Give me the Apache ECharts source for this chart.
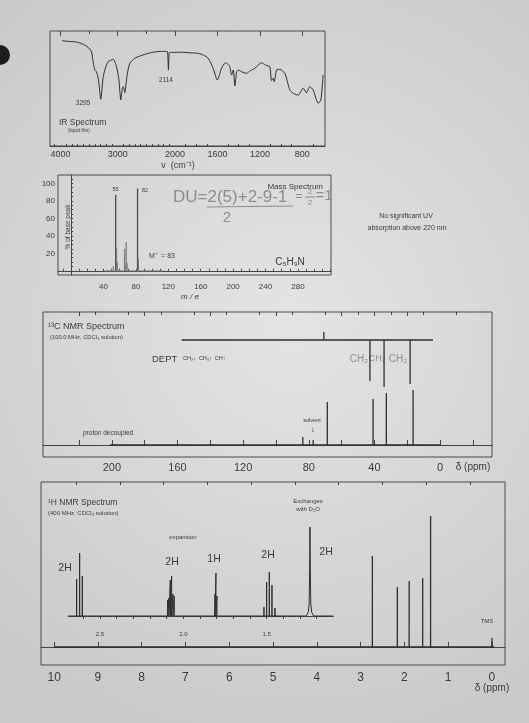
<!DOCTYPE html>
<html><head><meta charset="utf-8">
<script src="https://cdn.jsdelivr.net/npm/echarts@6/dist/echarts.min.js"></script>
<style>html,body{margin:0;padding:0;background:#d8d8d6;}#c{width:529px;height:723px;}</style>
</head><body><div id="c"></div>
<script>
// ---------- IR spectrum ----------
const irWavenumber = [3970,3870,3750,3660,3575,3500,3457,3425,3400,3370,3335,3295,3253,3210,3166,3079,3021,2980,2946,2920,2904,2876,2850,2829,2789,2702,2600,2468,2350,2236,2160,2131,2114,2100,2050,1939,1850,1781,1730,1687,1640,1602,1580,1562,1524,1500,1484,1467,1451,1436,1420,1404,1373,1326,1290,1248,1185,1147,1107,1091,1075,1065,1043,1012,965,918,880,839,792,761,730,698,651,626,604];
const irTransmittance = [91.6,91.0,90.7,89.5,87.8,85.0,82.0,72.0,66.1,64.6,57.4,40.6,60.3,68.5,73.3,75.4,69.0,58.0,40.0,50.0,51.6,46.3,56.0,63.5,71.9,76.3,78.5,80.6,81.8,82.3,82.2,82.0,66.1,81.1,81.4,81.5,81.0,80.6,79.0,76.3,67.6,57.4,62.0,67.6,72.4,71.0,69.0,61.7,66.1,52.2,64.6,66.1,64.6,63.2,65.5,67.6,72.4,70.4,69.0,56.8,58.9,55.9,66.1,66.7,63.2,48.7,45.5,44.3,50.2,46.3,51.6,48.7,37.1,40.0,61.7];
const irTickLabels = [4000,3000,2000,1600,1200,800];
const irMinorTicks = [4100,3900,3800,3700,3600,3500,3400,3300,3200,3100,2900,2800,2700,2600,2500,2400,2300,2200,2100,1900,1800,1700,1500,1400,1300,1100,1000,900,700];
const irTopTicks = [3500,3000,2500,2000,1600,1200,800];

// ---------- Mass spectrum ----------
const msMass = [52,55,56,57,66,67,68,69,82,83];
const msIntensity = [5,87,26,10,25,6,33,9,94,14];
const msXLabels = [40,80,120,160,200,240,280];
const msXTicks = [-10,0,10,20,30,40,50,60,70,80,90,100,110,120,130,140,150,160,170,180,190,200,210,220,230,240,250,260,270,280,290,300,310,320];
const msYLabels = [20,40,60,80,100];
const msYTicks = [0,5,10,15,20,25,30,35,40,45,50,55,60,65,70,75,80,85,90,95,100,105];

// ---------- 13C NMR ----------
const c13Shift = [83.6,77.3,68.7,40.8,32.7,16.4];
const c13Height = [8,5,43,46,52,55];
const deptShift = [70.8,42.7,34.1,18.2];
const deptHeight = [8,-41,-47,-44];
const c13Labels = [200,160,120,80,40,0];
const c13MajorTicks = [220,200,180,160,140,120,100,80,60,40,20,0,-20];
const c13MinorTicks = [210,190,170,150,130,110,90,70,50,30,10,-10];
const c13TopTicks = [220,180,140,100,60,40,20];

// ---------- 1H NMR ----------
const h1Shift = [2.73,2.16,1.89,1.58,1.40,0.00];
const h1Height = [91,60,66,69,131,9];
const h1Labels = [10,9,8,7,6,5,4,3,2,1,0];
const h1HalfTicks = [9.5,8.5,7.5,6.5,5.5,4.5,3.5,2.5,1.5,0.5];
const expShift = [2.640,2.622,2.606,2.094,2.086,2.078,2.070,2.062,2.054,1.810,1.804,1.798,1.516,1.500,1.484,1.468,1.450];
const expHeight = [37,63,40,16,18,36,40,22,20,22,43,20,9,34,44,31,8];
const nh2Shift = [1.262,1.250,1.245,1.242,1.240,1.238,1.235,1.230,1.218];
const nh2Height = [0,4,12,45,89,45,12,4,0];
const expLabels = [2.5,2.0,1.5];
const expTicks = [2.6,2.5,2.4,2.3,2.2,2.1,2.0,1.9,1.8,1.7,1.6,1.5,1.4,1.3,1.2];

// ---------- helpers ----------
const IR_STRETCH = 1.852;
const irU = w => w >= 2000 ? 4000 - w : 2000 + (2000 - w) * IR_STRETCH;
const irW = u => u <= 2000 ? 4000 - u : 2000 - (u - 2000) / IR_STRETCH;

function sticks(from, to, shifts, heights, extra) {
  const pts = shifts.map((s, i) => [s, heights[i]]).sort((a, b) => b[0] - a[0]);
  const d = [[from, 0]];
  pts.forEach(([s, h]) => { d.push([s, 0], [s, h], [s, 0]); });
  if (extra) extra.forEach(p => d.push(p));
  d.push([to, 0]);
  return d;
}

const FONT = 'Liberation Sans';
const INK = '#3a3a3a';
const LINE = '#2e2e2e';
const base = {type:'value', splitLine:{show:false}, axisLine:{show:false}, axisTick:{show:false}, axisLabel:{show:false}};
const lbl = (size, extra) => Object.assign({show:true, fontSize:size, color:INK, fontFamily:FONT}, extra || {});
const tick = (vals, len, inside) => ({show:true, inside: inside !== false, length:len, customValues:vals, lineStyle:{color:'#444', width:1}});
const axLine = {show:true, lineStyle:{color:'#444', width:1}};

function txt(t, x, y, size, o) {
  o = o || {};
  return {type:'text', x:x, y:y, rotation:o.rotation || 0, silent:true,
    style:{text:t, font:(o.italic ? 'italic ' : '') + (o.weight || 'normal') + ' ' + size + 'px "' + (o.family || FONT) + '"',
      fill:o.color || INK, align:o.align || 'center', verticalAlign:'middle'}};
}
const PENCIL = '#8d8d8d';

const grids = [
  {left:50, top:31, width:275, height:115, show:true, borderColor:'#4a4a4a', borderWidth:1},   // IR
  {left:58, top:175, width:273, height:100, show:true, borderColor:'#4a4a4a', borderWidth:1},  // MS
  {left:43, top:312, width:449, height:145, show:true, borderColor:'#4a4a4a', borderWidth:1},  // 13C
  {left:43, top:300, width:449, height:90, show:false},                                          // DEPT
  {left:41, top:482, width:464, height:183, show:true, borderColor:'#4a4a4a', borderWidth:1},  // 1H
  {left:68.3, top:516, width:265, height:110, show:false}                                        // expansion
];

const irMin = -181.5, irMax = 4617.5;
const msMin = -16.2, msMax = 320.8;
const cMin = -31.7, cMax = 242;
const hMin = -0.3, hMax = 10.3;
const eMin = 1.10, eMax = 2.69;

const xAxis = [
  Object.assign({}, base, {gridIndex:0, min:irMin, max:irMax, axisLine:axLine,
    axisTick:tick(irMinorTicks.map(irU), 2),
    axisLabel:lbl(9, {customValues:irTickLabels.map(irU), margin:4, formatter:v => String(Math.round(irW(v)))})}),
  Object.assign({}, base, {gridIndex:0, min:irMin, max:irMax, axisTick:tick(irTickLabels.map(irU), 5)}),
  Object.assign({}, base, {gridIndex:0, min:irMin, max:irMax, position:'top', axisTick:tick(irTopTicks.map(irU), 3)}),
  Object.assign({}, base, {gridIndex:1, min:msMin, max:msMax, axisLine:axLine,
    axisTick:tick(msXTicks, 2), axisLabel:lbl(8, {customValues:msXLabels, margin:8})}),
  Object.assign({}, base, {gridIndex:2, min:cMin, max:cMax, inverse:true, axisLine:axLine,
    axisTick:tick(c13MajorTicks, 5), axisLabel:lbl(11, {customValues:c13Labels, margin:5})}),
  Object.assign({}, base, {gridIndex:2, min:cMin, max:cMax, inverse:true, axisTick:tick(c13MinorTicks, 3)}),
  Object.assign({}, base, {gridIndex:2, min:cMin, max:cMax, inverse:true, position:'top', axisTick:tick(c13TopTicks, 4)}),
  Object.assign({}, base, {gridIndex:3, min:cMin, max:cMax, inverse:true}),
  Object.assign({}, base, {gridIndex:4, min:hMin, max:hMax, inverse:true, axisLine:axLine,
    axisTick:tick(h1Labels, 5), axisLabel:lbl(12, {customValues:h1Labels, margin:7})}),
  Object.assign({}, base, {gridIndex:4, min:hMin, max:hMax, inverse:true, axisTick:tick(h1HalfTicks, 3)}),
  Object.assign({}, base, {gridIndex:5, min:eMin, max:eMax, inverse:true, axisLine:axLine,
    axisTick:tick(expTicks, 3, false), axisLabel:lbl(6, {customValues:expLabels, margin:5, formatter:v => v.toFixed(1)})})
];

const yAxis = [
  Object.assign({}, base, {gridIndex:0, min:0, max:100}),
  Object.assign({}, base, {gridIndex:1, min:-4.8, max:109.5, axisLine:axLine,
    axisTick:tick(msYTicks, 2), axisLabel:lbl(8, {customValues:msYLabels, margin:3})}),
  Object.assign({}, base, {gridIndex:2, min:-12, max:133}),
  Object.assign({}, base, {gridIndex:3, min:-50, max:40}),
  Object.assign({}, base, {gridIndex:4, min:-18, max:165}),
  Object.assign({}, base, {gridIndex:5, min:-10, max:100})
];

const lineS = (xi, yi, data, w, extra) => Object.assign({type:'line', xAxisIndex:xi, yAxisIndex:yi, data:data,
  symbol:'none', showSymbol:false, silent:true, lineStyle:{color:LINE, width:w}}, extra || {});

const series = [
  lineS(0, 0, irWavenumber.map((w, i) => [irU(w), irTransmittance[i]]), 1, {smooth:0.2}),
  lineS(3, 1, [[41, 0], [114, 0]], 1, {lineStyle:{color:'#8a8a8a', width:1}}),
  {type:'bar', xAxisIndex:3, yAxisIndex:1, barWidth:1.3, silent:true,
    data:msMass.map((m, i) => ({value:[m, msIntensity[i]], itemStyle:{color: msIntensity[i] > 50 ? '#4a4a4a' : '#7d7d7d'}}))},
  lineS(4, 2, sticks(201.2, 0, c13Shift, c13Height), 1.3),
  lineS(7, 3, sticks(157.5, 4.3, deptShift, deptHeight), 1.3),
  lineS(8, 4, sticks(10.0, -0.05, h1Shift, h1Height), 1.3),
  lineS(10, 5, sticks(2.69, 1.10, expShift, expHeight, nh2Shift.map((s, i) => [s, nh2Height[i]])), 1)
];

const graphic = [
  {type:'circle', shape:{cx:0, cy:55, r:10}, style:{fill:'#1c1c1c'}, silent:true},
  // IR
  txt('3295', 83, 103, 6.5),
  txt('2114', 166, 80, 6.5),
  txt('IR Spectrum', 59, 123, 8.5, {align:'left'}),
  txt('(liquid film)', 68, 131, 4.5, {align:'left'}),
  txt('ν  (cm⁻¹)', 178, 166, 9),
  // MS
  txt('55', 115.5, 189, 5.5),
  txt('82', 145, 190, 5.5),
  txt('Mass Spectrum', 323, 187, 8, {align:'right'}),
  txt('M⁺˙ = 83', 149, 256, 7, {align:'left'}),
  txt('C₅H₉N', 290, 262, 10),
  txt('m / e', 190, 297, 8, {italic:true}),
  txt('% of base peak', 68, 227, 6.5, {rotation:Math.PI / 2}),
  txt('DU=2(5)+2-9-1', 173, 197, 17, {align:'left', color:PENCIL}),
  {type:'line', shape:{x1:207, y1:207, x2:293, y2:206}, style:{stroke:PENCIL, lineWidth:1.2}, silent:true},
  txt('2', 227, 218, 15, {color:PENCIL}),
  txt('=', 299, 197, 12, {color:PENCIL}),
  txt('2', 310, 192, 8, {color:PENCIL}),
  {type:'line', shape:{x1:305, y1:197, x2:315, y2:197}, style:{stroke:PENCIL, lineWidth:1}, silent:true},
  txt('2', 310, 203, 8, {color:PENCIL}),
  txt('=1', 324, 196, 15, {color:PENCIL}),
  // UV
  txt('No significant UV', 406, 216, 7),
  txt('absorption above 220 nm', 407, 228, 7),
  // 13C
  txt('¹³C NMR Spectrum', 48, 327, 9, {align:'left'}),
  txt('(100.0 MHz, CDCl₃ solution)', 50, 337, 5.8, {align:'left'}),
  txt('DEPT', 152, 359, 9.5, {align:'left'}),
  txt('CH₂↓  CH₃↑  CH↑', 183, 358, 5.5, {align:'left'}),
  txt('CH₂', 359, 359, 10, {color:PENCIL}),
  txt('CH₂', 377, 359, 9, {color:PENCIL}),
  txt('CH₂', 398, 359, 10, {color:PENCIL}),
  txt('proton decoupled', 83, 433, 6.5, {align:'left'}),
  txt('solvent', 312, 420, 5.5),
  txt('↓', 312.7, 430, 8),
  txt('δ (ppm)', 473, 467, 10),
  // 1H
  txt('¹H NMR Spectrum', 48, 503, 8.5, {align:'left'}),
  txt('(400 MHz, CDCl₃ solution)', 48, 513, 6, {align:'left'}),
  txt('Exchanges', 308, 501, 6),
  txt('with D₂O', 308, 509, 6),
  txt('expansion', 183, 537, 6),
  txt('2H', 65, 568, 10.5),
  txt('2H', 172, 562, 10.5),
  txt('1H', 214, 559, 10.5),
  txt('2H', 268, 555, 10.5),
  txt('2H', 326, 552, 10.5),
  txt('TMS', 487, 621, 6),
  txt('δ (ppm)', 492, 688, 10)
];

const chart = echarts.init(document.getElementById('c'), null, {renderer:'canvas'});
chart.setOption({
  animation:false,
  backgroundColor:{type:'radial', x:0.55, y:0.45, r:0.8,
    colorStops:[{offset:0, color:'#e4e4e2'}, {offset:1, color:'#cacac8'}]},
  textStyle:{fontFamily:FONT},
  grid:grids, xAxis:xAxis, yAxis:yAxis, series:series, graphic:graphic
});
</script></body></html>
